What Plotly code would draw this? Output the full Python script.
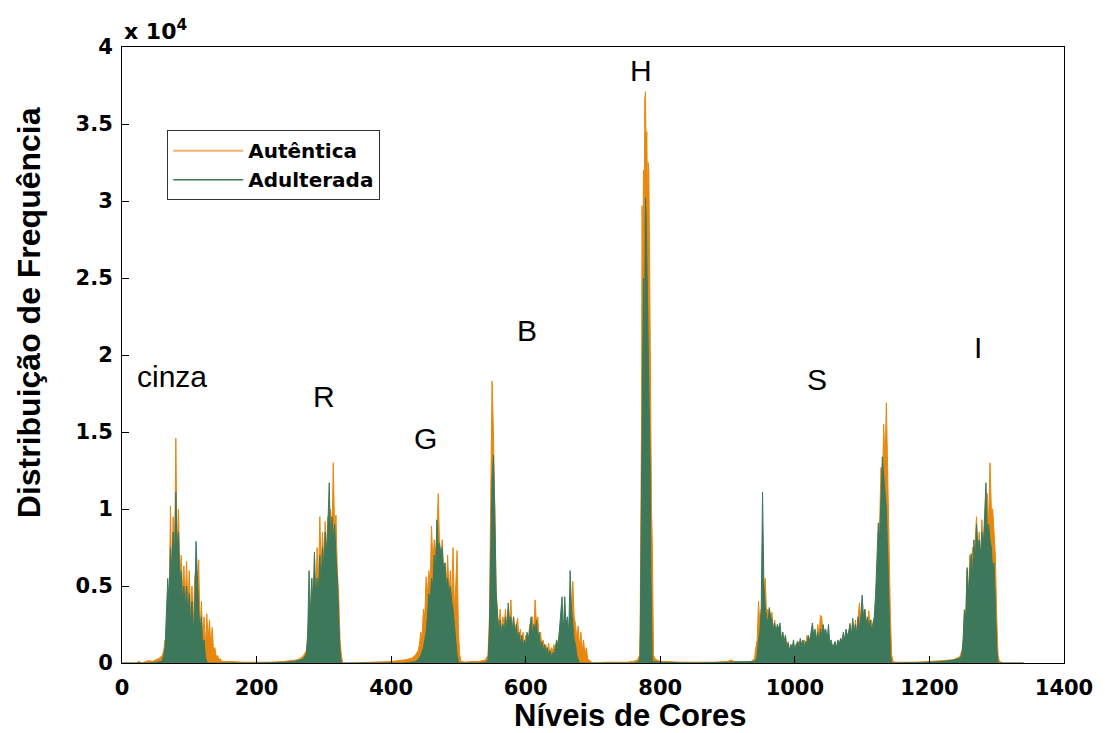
import plotly.graph_objects as go

# Frequency counts are in units of 10^4; each block is (first colour level, step, counts)
# and each tail is (levels, counts) for the low stretches between the channel blocks.

# ---- Autêntica ----
aut_tail_a = ([1, 20, 25, 30, 35, 40, 45, 50, 55, 60],
              [0, 0, 0.01, 0, 0.01, 0.015, 0.01, 0.02, 0.03, 0.05])
aut_cinza = (62, 2, [0.08, 0.15, 0.10, 0.45, 0.30, 1.02, 0.50, 0.95, 0.60, 1.46,
                     0.70, 1.00, 0.55, 0.70, 0.45, 0.63, 0.40, 0.66, 0.35, 0.60,
                     0.30, 0.50, 0.25, 0.55, 0.62, 0.30, 0.67, 0.20, 0.40, 0.15,
                     0.30, 0.10, 0.32, 0.15, 0.28, 0.10, 0.23, 0.08, 0.10, 0.04,
                     0.05, 0.02, 0.03, 0.01, 0.01])
aut_tail_b = ([160, 180, 200, 220, 240, 250, 260, 265, 270, 274],
              [0.01, 0.005, 0.005, 0.005, 0.01, 0.015, 0.02, 0.03, 0.05, 0.08])
aut_R = (276, 2, [0.15, 0.35, 0.20, 0.55, 0.30, 0.70, 0.40, 0.75, 0.50, 0.95,
                  0.60, 0.85, 0.65, 0.92, 0.70, 0.95, 0.75, 1.00, 0.80, 1.30,
                  0.85, 0.96, 0.60, 0.45, 0.15, 0.05, 0.00])
aut_tail_c = ([340, 380, 400, 410, 420, 430, 436, 440],
              [0.0, 0.005, 0.01, 0.015, 0.02, 0.03, 0.05, 0.08])
aut_G = (442, 2, [0.12, 0.20, 0.17, 0.35, 0.30, 0.56, 0.45, 0.60, 0.50, 0.89,
                  0.65, 0.80, 0.70, 0.85, 1.10, 0.75, 0.70, 0.80, 0.55, 0.65,
                  0.50, 0.70, 0.45, 0.60, 0.40, 0.75, 0.35, 0.50, 0.73, 0.20,
                  0.05, 0.01])
aut_tail_d = ([510, 520, 530, 540, 544], [0.005, 0.01, 0.01, 0.02, 0.05])
aut_B = (546, 2, [0.30, 1.28, 1.83, 1.50, 0.90, 0.50, 0.30, 0.25, 0.35, 0.20,
                  0.30, 0.25, 0.35, 0.20, 0.35, 0.25, 0.41, 0.20, 0.30, 0.18,
                  0.25, 0.29, 0.15, 0.22, 0.12, 0.20, 0.10, 0.18, 0.10, 0.15,
                  0.25, 0.15, 0.30, 0.20, 0.41, 0.25, 0.30, 0.15, 0.20, 0.10,
                  0.15, 0.08, 0.12, 0.06, 0.13, 0.05, 0.10, 0.08, 0.12, 0.06,
                  0.15, 0.10, 0.20, 0.12, 0.25, 0.15, 0.30, 0.20, 0.25, 0.15,
                  0.35, 0.30, 0.53, 0.30, 0.25, 0.15, 0.24, 0.10, 0.20, 0.08,
                  0.15, 0.05, 0.10, 0.03, 0.02, 0.01, 0.005, 0.00])
aut_tail_e = ([720, 750, 760, 766, 769], [0.005, 0.005, 0.01, 0.02, 0.05])
aut_H = (770, 1, [0.20, 0.78, 1.50, 2.97, 2.20, 3.20, 2.80, 3.66, 3.71, 3.30,
                  3.45, 3.00, 3.25, 3.20, 2.53, 1.75, 1.30, 1.00, 0.80, 0.20,
                  0.05])
aut_tail_f = ([792, 795, 800, 810, 830, 850, 880, 900, 905, 910, 930, 935, 940, 942],
              [0.03, 0.02, 0.01, 0.01, 0.005, 0.005, 0.005, 0.01, 0.02, 0.01,
               0.005, 0.01, 0.03, 0.10])
aut_S = (944, 2, [0.15, 0.40, 0.25, 0.35, 0.20, 0.45, 0.55, 0.30, 0.35, 0.20,
                  0.30, 0.33, 0.20, 0.28, 0.15, 0.25, 0.18, 0.22, 0.12, 0.20,
                  0.10, 0.18, 0.08, 0.14, 0.06, 0.12, 0.08, 0.10, 0.05, 0.12,
                  0.08, 0.14, 0.10, 0.12, 0.08, 0.15, 0.10, 0.18, 0.08, 0.16,
                  0.12, 0.22, 0.15, 0.20, 0.12, 0.25, 0.18, 0.31, 0.30, 0.15,
                  0.20, 0.10, 0.18, 0.12, 0.15, 0.08, 0.12, 0.06, 0.10, 0.08,
                  0.14, 0.10, 0.16, 0.10, 0.18, 0.12, 0.20, 0.14, 0.22, 0.26,
                  0.15, 0.22, 0.18, 0.28, 0.20, 0.30, 0.39, 0.25, 0.30, 0.20,
                  0.35, 0.28, 0.25, 0.34, 0.20, 0.28, 0.15, 0.22, 0.30, 0.41,
                  0.70, 0.90, 1.27, 1.10, 1.55, 1.30, 1.69, 1.20, 0.80, 0.30,
                  0.05, 0.01])
aut_tail_g = ([1150, 1180, 1200, 1220, 1235, 1245, 1248],
              [0.005, 0.005, 0.01, 0.015, 0.02, 0.04, 0.08])
aut_I = (1250, 2, [0.10, 0.35, 0.25, 0.60, 0.40, 0.70, 0.50, 0.75, 0.60, 0.80,
                   0.95, 0.70, 0.85, 0.65, 0.93, 0.70, 0.90, 0.80, 1.10, 0.90,
                   1.30, 1.00, 1.00, 0.85, 0.70, 0.30, 0.05, 0.01])
aut_tail_h = ([1310, 1340], [0, 0])

# ---- Adulterada ----
adu_tail_a = ([1, 40, 50, 58], [0, 0.0, 0.005, 0.01])
adu_cinza = (60, 2, [0.02, 0.05, 0.10, 0.30, 0.55, 0.40, 0.75, 0.60, 0.85, 0.70,
                     1.11, 0.75, 0.85, 0.50, 0.60, 0.40, 0.50, 0.35, 0.50, 0.30,
                     0.45, 0.25, 0.40, 0.20, 0.35, 0.79, 0.50, 0.35, 0.20, 0.30,
                     0.10, 0.15, 0.04, 0.01, 0.00])
adu_tail_b = ([140, 200, 240, 255, 265, 270, 274],
              [0, 0.0, 0.005, 0.01, 0.02, 0.03, 0.06])
adu_R = (276, 2, [0.20, 0.60, 0.30, 0.55, 0.35, 0.72, 0.40, 0.55, 0.45, 0.70,
                  0.50, 0.75, 0.60, 0.85, 0.70, 0.90, 1.17, 0.75, 0.95, 0.80,
                  0.90, 0.70, 0.55, 0.30, 0.08, 0.00])
adu_tail_c = ([340, 420, 430, 436, 440, 444, 448, 452],
              [0, 0.0, 0.005, 0.01, 0.02, 0.05, 0.10, 0.20])
adu_G = (454, 2, [0.30, 0.45, 0.40, 0.55, 0.50, 0.70, 0.60, 0.93, 0.75, 0.78,
                  0.70, 0.75, 0.60, 0.65, 0.50, 0.55, 0.45, 0.50, 0.40, 0.35,
                  0.25, 0.15, 0.05, 0.01, 0.00])
adu_tail_d = ([510, 530, 540, 544], [0, 0.0, 0.005, 0.02])
adu_B = (546, 2, [0.20, 0.80, 1.20, 1.35, 1.00, 0.45, 0.30, 0.20, 0.28, 0.20,
                  0.25, 0.20, 0.30, 0.22, 0.39, 0.25, 0.30, 0.20, 0.30, 0.18,
                  0.25, 0.15, 0.20, 0.12, 0.18, 0.10, 0.15, 0.12, 0.20, 0.15,
                  0.22, 0.30, 0.18, 0.25, 0.20, 0.28, 0.15, 0.20, 0.10, 0.14,
                  0.08, 0.12, 0.06, 0.10, 0.05, 0.08, 0.04, 0.07, 0.05, 0.10,
                  0.15, 0.10, 0.20, 0.30, 0.43, 0.20, 0.43, 0.25, 0.30, 0.20,
                  0.60, 0.35, 0.25, 0.15, 0.12, 0.05, 0.02, 0.00])
adu_tail_e = ([700, 760, 766, 769], [0, 0, 0.005, 0.02])
adu_H = (770, 1, [0.05, 0.50, 1.20, 1.75, 2.20, 2.50, 1.75, 2.82, 3.02, 2.90,
                  2.60, 2.40, 2.31, 2.00, 1.60, 1.25, 0.60, 0.15, 0.02])
adu_tail_f = ([790, 800, 850, 900, 940, 943], [0.01, 0.005, 0.0, 0.005, 0.01, 0.03])
adu_S = (944, 2, [0.05, 0.15, 0.20, 0.35, 1.11, 0.50, 0.36, 0.30, 0.25, 0.36,
                  0.30, 0.28, 0.22, 0.26, 0.20, 0.25, 0.22, 0.26, 0.15, 0.20,
                  0.14, 0.18, 0.10, 0.13, 0.08, 0.12, 0.10, 0.15, 0.08, 0.12,
                  0.14, 0.10, 0.16, 0.12, 0.15, 0.10, 0.14, 0.12, 0.18, 0.14,
                  0.20, 0.26, 0.18, 0.22, 0.15, 0.20, 0.14, 0.22, 0.18, 0.25,
                  0.20, 0.22, 0.15, 0.25, 0.12, 0.15, 0.10, 0.12, 0.14, 0.10,
                  0.15, 0.12, 0.16, 0.14, 0.20, 0.15, 0.22, 0.18, 0.20, 0.25,
                  0.18, 0.29, 0.20, 0.25, 0.18, 0.30, 0.22, 0.30, 0.44, 0.30,
                  0.35, 0.25, 0.30, 0.22, 0.28, 0.21, 0.25, 0.30, 0.45, 0.65,
                  0.91, 0.80, 1.10, 1.34, 1.22, 1.10, 1.00, 0.70, 0.30, 0.05,
                  0.00])
adu_tail_g = ([1146, 1200, 1220, 1235, 1245], [0, 0.005, 0.01, 0.02, 0.03])
adu_I = (1248, 2, [0.05, 0.15, 0.34, 0.30, 0.62, 0.45, 0.60, 0.71, 0.55, 0.80,
                   0.65, 0.90, 0.75, 0.80, 0.70, 0.85, 0.75, 0.95, 1.17, 0.85,
                   0.90, 0.80, 0.75, 0.60, 0.65, 0.40, 0.10, 0.00])
adu_tail_h = ([1310, 1340], [0, 0])

autentica = [aut_tail_a, aut_cinza, aut_tail_b, aut_R, aut_tail_c, aut_G, aut_tail_d,
             aut_B, aut_tail_e, aut_H, aut_tail_f, aut_S, aut_tail_g, aut_I, aut_tail_h]
adulterada = [adu_tail_a, adu_cinza, adu_tail_b, adu_R, adu_tail_c, adu_G, adu_tail_d,
              adu_B, adu_tail_e, adu_H, adu_tail_f, adu_S, adu_tail_g, adu_I, adu_tail_h]

channel_names = ["cinza", "R", "G", "B", "H", "S", "I"]


def assemble(parts):
    """Join blocks and tails into one ordered (levels, counts) series."""
    xs, ys = [], []
    for part in parts:
        if len(part) == 3:
            start, step, vals = part
            xs.extend(start + step * i for i in range(len(vals)))
            ys.extend(vals)
        else:
            lv, vals = part
            xs.extend(lv)
            ys.extend(vals)
    return xs, ys


ORANGE = "#E8870E"
GREEN = "#3D785B"

fig = go.Figure()
for name, parts, color in [("Autêntica", autentica, ORANGE),
                           ("Adulterada", adulterada, GREEN)]:
    x, y = assemble(parts)
    fig.add_trace(go.Scatter(x=x, y=y, mode="lines", name=name,
                             line=dict(color=color, width=1),
                             fill="tozeroy", fillcolor=color,
                             showlegend=False, hoverinfo="x+y"))

# legend entries drawn as plain lines
fig.add_trace(go.Scatter(x=[None], y=[None], mode="lines", name="Autêntica",
                         line=dict(color="#F0B46E", width=2)))
fig.add_trace(go.Scatter(x=[None], y=[None], mode="lines", name="Adulterada",
                         line=dict(color=GREEN, width=1.5)))

TICK_FONT = dict(family="DejaVu Sans", size=21, color="black", weight="bold")

fig.update_xaxes(range=[0, 1400], dtick=200, tick0=0,
                 showline=True, mirror=True, linecolor="black", linewidth=1,
                 ticks="inside", ticklen=7, tickcolor="black",
                 showgrid=False, zeroline=False, tickfont=TICK_FONT,
                 ticklabelstandoff=6)
fig.update_yaxes(range=[0, 4], dtick=0.5, tick0=0,
                 showline=True, mirror=True, linecolor="black", linewidth=1,
                 ticks="inside", ticklen=7, tickcolor="black",
                 showgrid=False, zeroline=False, tickfont=TICK_FONT,
                 ticklabelstandoff=4)

label_pos = [(75, 1.86), (300, 1.73), (451, 1.46), (602, 2.16),
             (771, 3.85), (1033, 1.84), (1272, 2.05)]
annotations = [dict(x=px, y=py, xref="x", yref="y", text=txt, showarrow=False,
                    xanchor="center", yanchor="middle",
                    font=dict(family="Liberation Sans", size=30, color="black"))
               for txt, (px, py) in zip(channel_names, label_pos)]

annotations += [
    dict(x=0, y=1, xref="paper", yref="paper", xanchor="left", yanchor="bottom",
         yshift=1, text="x 10<sup>4</sup>", showarrow=False,
         font=dict(family="DejaVu Sans", size=22, color="black", weight="bold")),
    dict(x=0.540, y=-0.0860, xref="paper", yref="paper", text="Níveis de Cores",
         xanchor="center", yanchor="middle", showarrow=False,
         font=dict(family="Liberation Sans", size=31, color="black", weight="bold")),
    dict(x=-0.0986, y=0.568, xref="paper", yref="paper", textangle=-90,
         xanchor="center", yanchor="middle",
         text="Distribuição de Frequência", showarrow=False,
         font=dict(family="Liberation Sans", size=32, color="black", weight="bold")),
]

fig.update_layout(
    width=1105, height=733,
    margin=dict(l=122, r=30, t=47, b=70),
    paper_bgcolor="white", plot_bgcolor="white",
    annotations=annotations,
    showlegend=True,
    legend=dict(x=0.048, y=0.865, xanchor="left", yanchor="top",
                bgcolor="white", bordercolor="#333333", borderwidth=1,
                itemwidth=70, tracegroupgap=0,
                font=dict(family="DejaVu Sans", size=20, color="black", weight="bold")),
)

fig.write_html("out.html")
